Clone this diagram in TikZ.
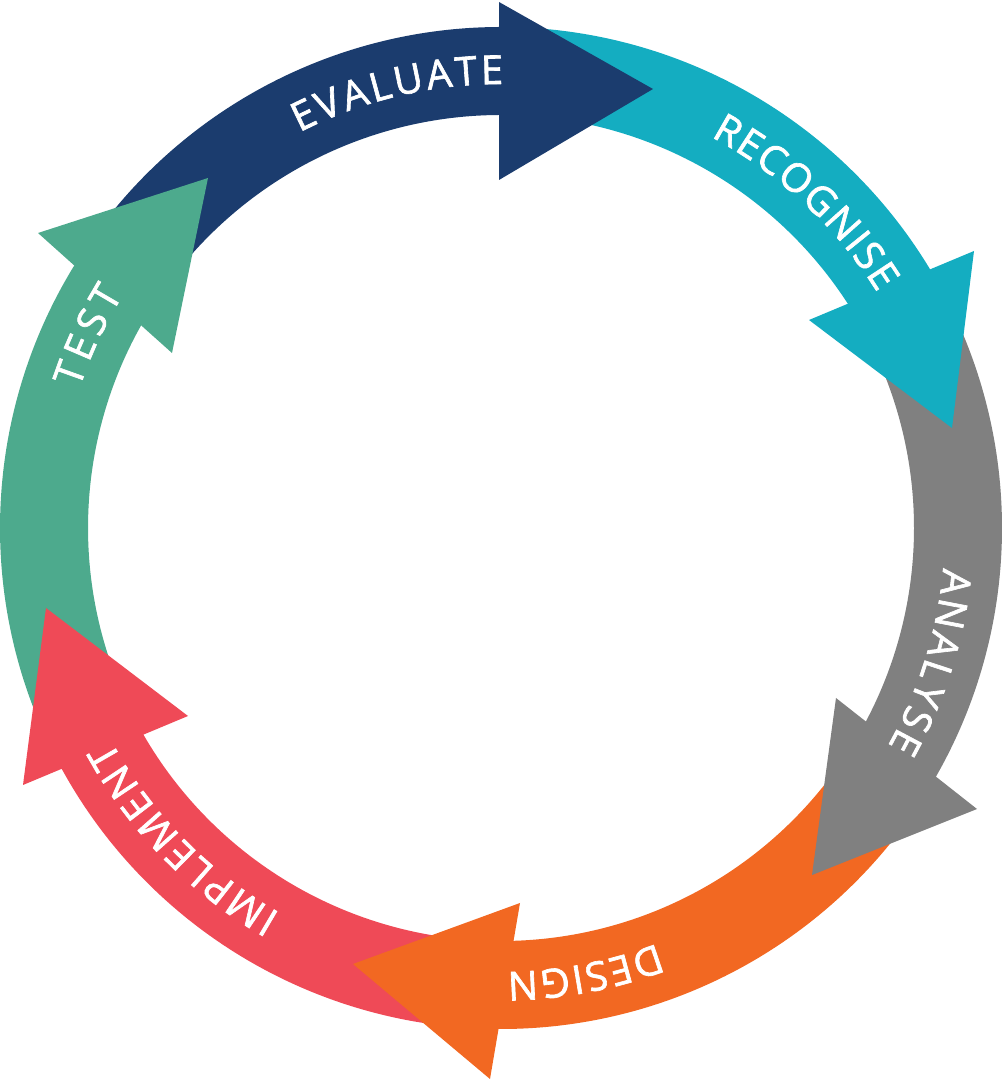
\documentclass[tikz,border=0pt]{standalone}
\usepackage{fontspec}
\setmainfont{Open Sans}[FakeBold=1.6]
\usetikzlibrary{decorations.text}
\definecolor{cnavy}{RGB}{27,60,110}
\definecolor{cteal}{RGB}{20,173,193}
\definecolor{cgray}{RGB}{128,128,128}
\definecolor{corange}{RGB}{242,104,34}
\definecolor{cred}{RGB}{239,74,87}
\definecolor{cgreen}{RGB}{77,170,141}
\newcommand\lblfont{\fontsize{40}{40}\selectfont}
\begin{document}
\begin{tikzpicture}[x=1pt,y=1pt,
  lbl/.style={decoration={text along path, text align={fit to path}, text color=white, text={|\lblfont|#1}}, decorate}]
\useasboundingbox (0,0) rectangle (1002,1080);
\begin{scope}[shift={(501,552)}]
% ring bodies
\foreach \c/\a/\b in {cnavy/147/87, cteal/87/29, cgray/29/-32, corange/-32/-92, cred/-92/-153.5, cgreen/-153.5/-213}
  \fill[\c] (\a:501pt) arc[start angle=\a, end angle=\b, radius=501pt] -- (\b:413pt) arc[start angle=\b, end angle=\a, radius=413pt] -- cycle;
% arrow heads
\fill[cnavy]   (-2,348)   -- (-2,526)   -- (152,439)  -- cycle;
\fill[cteal]   (308,208)  -- (473,277)  -- (451,100)  -- cycle;
\fill[cgray]   (335,-170) -- (476,-281) -- (311,-347) -- cycle;
\fill[corange] (19,-375)  -- (-11,-551) -- (-148,-436) -- cycle;
\fill[cred]    (-313,-188) -- (-478,-257) -- (-455,-80) -- cycle;
\fill[cgreen]  (-329,175) -- (-463,295) -- (-293,350) -- cycle;
% labels
\path[lbl=EVALUATE]  (117:444pt) arc[start angle=117, end angle=89.7, radius=444pt];
\path[lbl=RECOGNISE] (61.8:444pt) arc[start angle=61.8, end angle=32, radius=444pt];
\path[lbl=ANALYSE]   (-5.2:444pt) arc[start angle=-5.2, end angle=-29.4, radius=444pt];
\path[lbl=DESIGN]    (-69.4:444pt) arc[start angle=-69.4, end angle=-89.2, radius=444pt];
\path[lbl=IMPLEMENT] (-119.8:444pt) arc[start angle=-119.8, end angle=-151.4, radius=444pt];
\path[lbl=TEST]      (161.7:444pt) arc[start angle=161.7, end angle=148.3, radius=444pt];
\end{scope}
\end{tikzpicture}
\end{document}
